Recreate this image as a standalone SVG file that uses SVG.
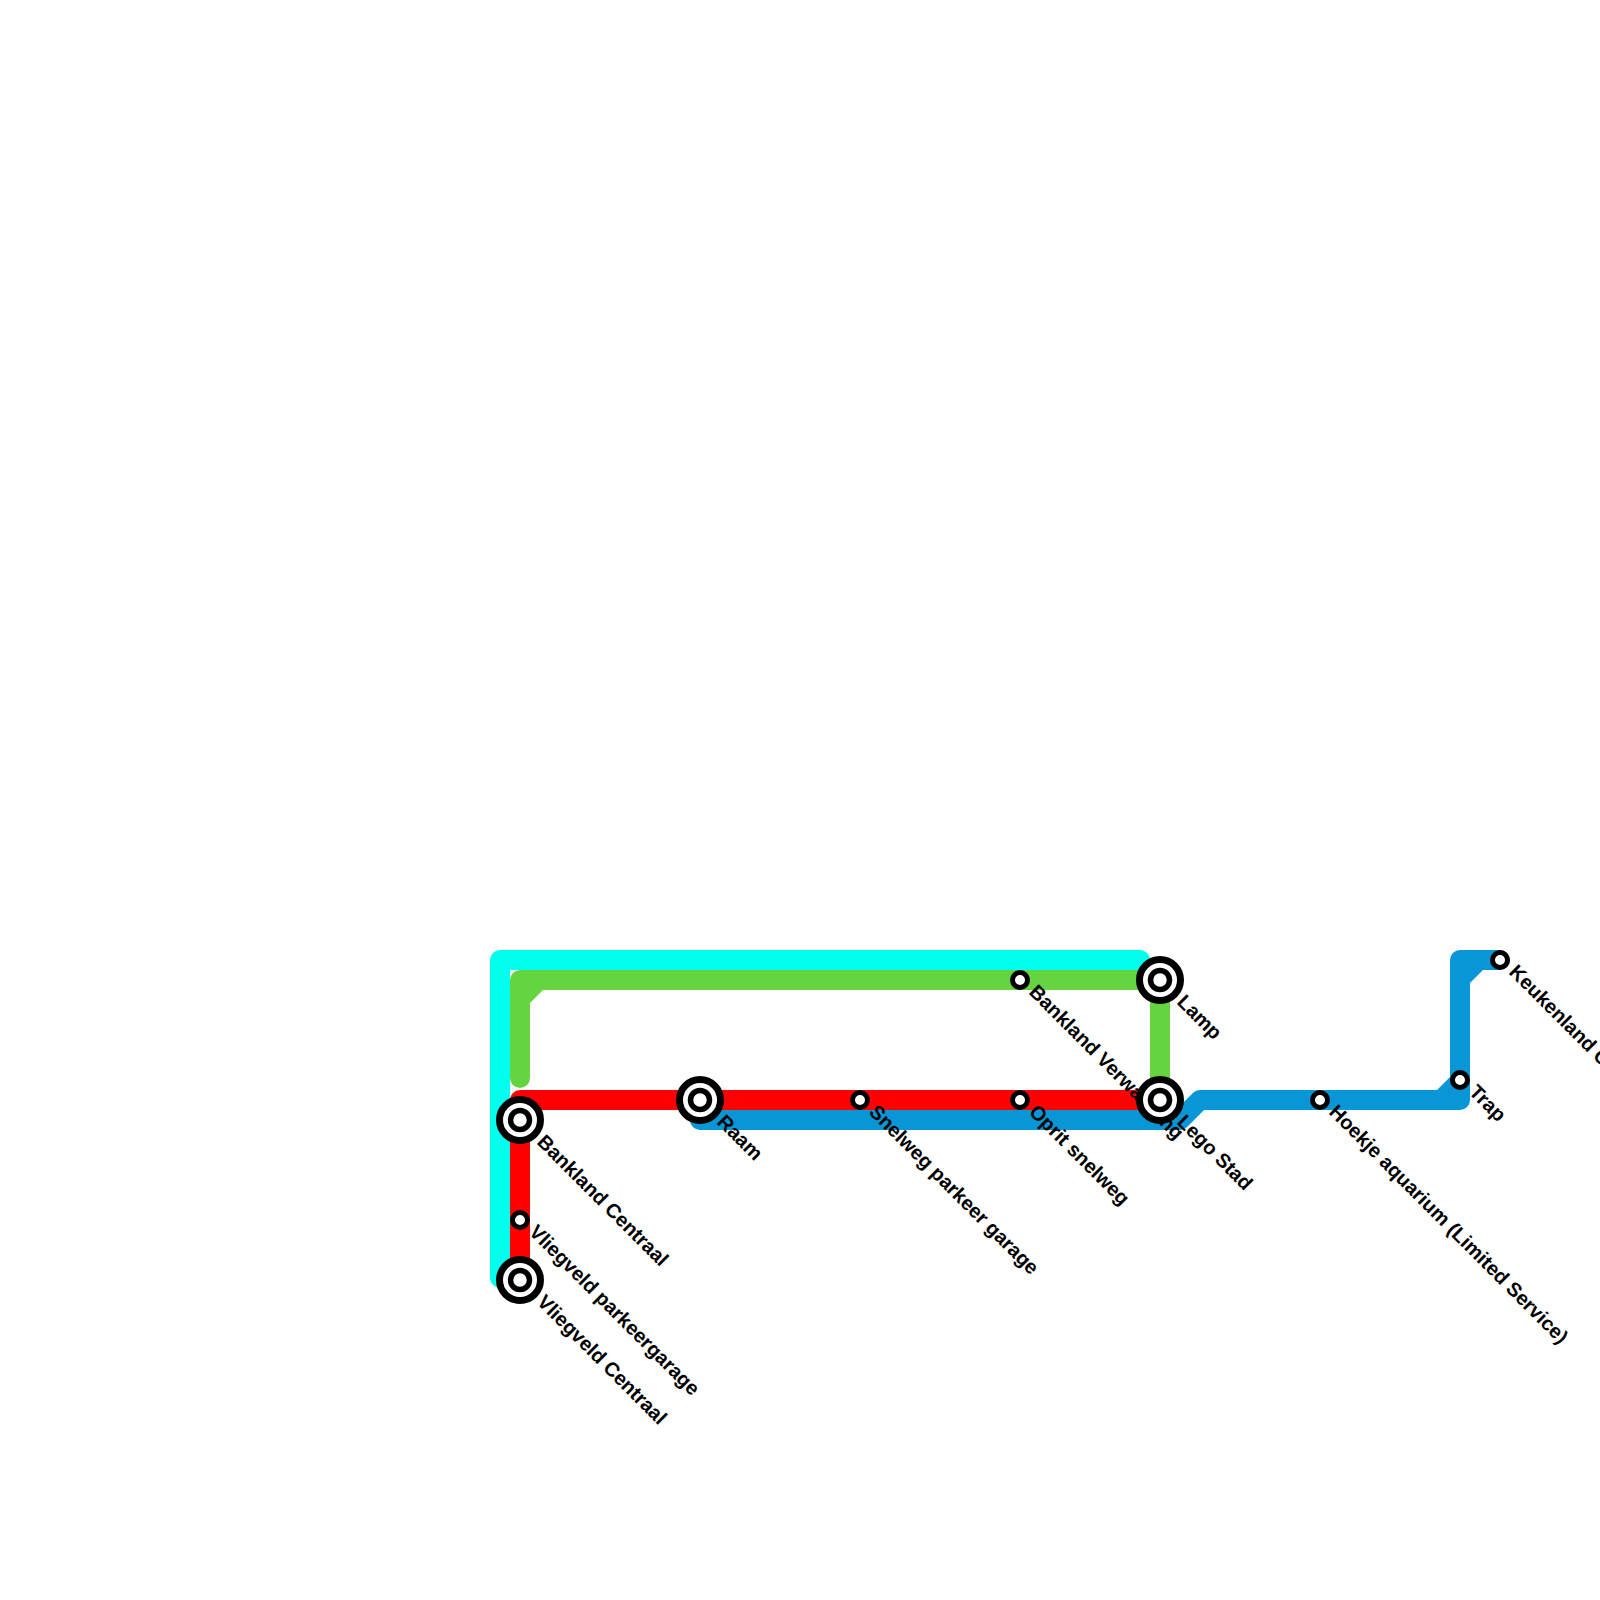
<svg xmlns="http://www.w3.org/2000/svg" width="1600" height="1600" viewBox="0 0 1600 1600">
<style>
.ln{fill:none;stroke-width:20;stroke-linejoin:round;stroke-linecap:round}
.cyan{stroke:#00ffee}.green{stroke:#64d440}.red{stroke:#ff0000}.blue{stroke:#0896d7}
.fg{fill:#64d440}.fb{fill:#0896d7}
.st{fill:#fff;stroke:#000;stroke-width:5}
.io{fill:#fff;stroke:#000;stroke-width:7}
.ii{fill:#fff;stroke:#000;stroke-width:5.5}
.lb{font-family:"Liberation Sans",Arial,sans-serif;font-weight:bold;font-size:20px;fill:#000}
</style>
<rect width="1600" height="1600" fill="#fff"/>
<g id="connectors">
<path class="ln cyan" d="M500,1278 L500,960 L1140,960"/>
<path class="ln green" d="M520,1078 L520,980 L1160,980 L1160,1100"/>
<polygon class="fg" points="529,989 529,1004 544,989"/>
<path class="ln red" d="M520,1280 L520,1100 L1160,1100"/>
<path class="ln blue" d="M700,1100 L700,1120 L1180,1120 L1200,1100 L1460,1100 L1460,960 L1500,960"/>
<polygon class="fb" points="1451,1091 1436,1091 1451,1076"/>
<polygon class="fb" points="1469,969 1469,984 1484,969"/>
</g>
<g id="labels">
<text class="lb" transform="translate(536,1143) rotate(45)">Bankland Centraal</text>
<text class="lb" transform="translate(536,1303) rotate(45)">Vliegveld Centraal</text>
<text class="lb" transform="translate(528,1233) rotate(45)">Vliegveld parkeergarage</text>
<text class="lb" transform="translate(716,1123) rotate(45)">Raam</text>
<text class="lb" transform="translate(868,1113) rotate(45)">Snelweg parkeer garage</text>
<text class="lb" transform="translate(1028,1113) rotate(45)">Oprit snelweg</text>
<text class="lb" transform="translate(1028,993) rotate(45)">Bankland Verwarming</text>
<text class="lb" transform="translate(1176,1003) rotate(45)">Lamp</text>
<text class="lb" transform="translate(1176,1123) rotate(45)">Lego Stad</text>
<text class="lb" transform="translate(1328,1113) rotate(45)">Hoekje aquarium (Limited Service)</text>
<text class="lb" transform="translate(1468,1093) rotate(45)">Trap</text>
<text class="lb" transform="translate(1508,973) rotate(45)">Keukenland Centraal</text>
</g>
<g id="bankland-centraal"><circle class="io" cx="520" cy="1120" r="20.5"/><circle class="ii" cx="520" cy="1120" r="9.5"/></g>
<g id="vliegveld-centraal"><circle class="io" cx="520" cy="1280" r="20.5"/><circle class="ii" cx="520" cy="1280" r="9.5"/></g>
<g id="vliegveld-parkeergarage"><circle class="st" cx="520" cy="1220" r="7.5"/></g>
<g id="raam"><circle class="io" cx="700" cy="1100" r="20.5"/><circle class="ii" cx="700" cy="1100" r="9.5"/></g>
<g id="snelweg-parkeer-garage"><circle class="st" cx="860" cy="1100" r="7.5"/></g>
<g id="oprit-snelweg"><circle class="st" cx="1020" cy="1100" r="7.5"/></g>
<g id="bankland-verwarming"><circle class="st" cx="1020" cy="980" r="7.5"/></g>
<g id="lamp"><circle class="io" cx="1160" cy="980" r="20.5"/><circle class="ii" cx="1160" cy="980" r="9.5"/></g>
<g id="lego-stad"><circle class="io" cx="1160" cy="1100" r="20.5"/><circle class="ii" cx="1160" cy="1100" r="9.5"/></g>
<g id="hoekje-aquarium"><circle class="st" cx="1320" cy="1100" r="7.5"/></g>
<g id="trap"><circle class="st" cx="1460" cy="1080" r="7.5"/></g>
<g id="keukenland"><circle class="st" cx="1500" cy="960" r="7.5"/></g>
</svg>
